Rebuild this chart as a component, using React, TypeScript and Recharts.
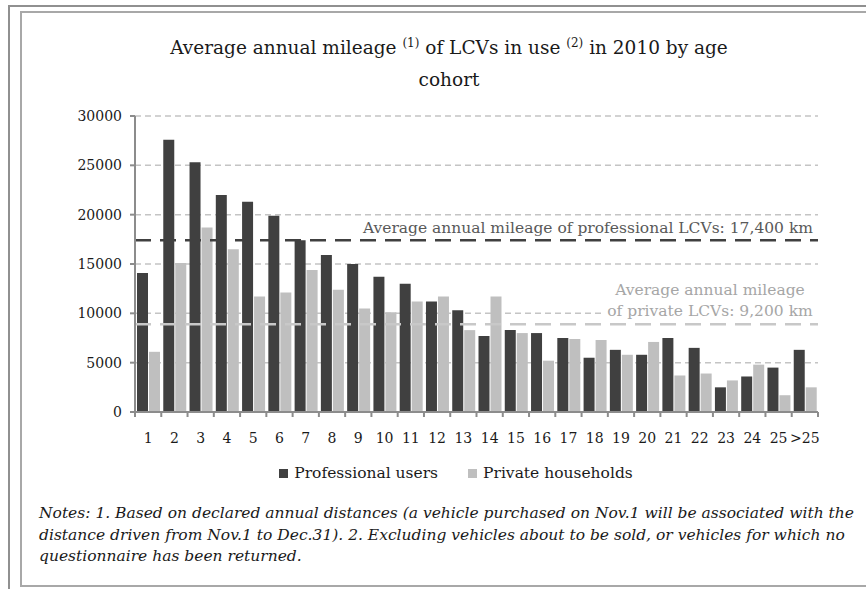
import React from 'react';
import {
  BarChart,
  Bar,
  XAxis,
  YAxis,
  CartesianGrid,
  ReferenceLine,
  Legend
} from 'recharts';

// age cohorts (years)
const ageCohorts = [
  '1', '2', '3', '4', '5', '6', '7', '8', '9', '10', '11', '12', '13',
  '14', '15', '16', '17', '18', '19', '20', '21', '22', '23', '24', '25', '>25'
];

// average annual km
const professionalUsers = [
  14100, 27600, 25300, 22000, 21300, 19900, 17400, 15900, 15000, 13700, 13000, 11200, 10300,
  7700, 8300, 8000, 7500, 5500, 6300, 5800, 7500, 6500, 2500, 3600, 4500, 6300
];
const privateHouseholds = [
  6100, 15100, 18700, 16500, 11700, 12100, 14400, 12400, 10500, 10100, 11200, 11700, 8300,
  11700, 8000, 5200, 7400, 7300, 5800, 7100, 3700, 3900, 3200, 4800, 1700, 2500
];

const seriesNames = ['Professional users', 'Private households'];
const yTicks = [0, 5000, 10000, 15000, 20000, 25000, 30000];
const professionalAverage = 17400;
const privateAverage = 8900; // drawn a little under the 9,200 printed in the label

const chartData = ageCohorts.map((age, i) => ({
  age,
  professional: professionalUsers[i],
  private: privateHouseholds[i]
}));

const DARK = '#404040';
const LIGHT = '#bfbfbf';
const AXIS = '#8c8c8c';
const TEXT = '#1a1a1a';
const FONT = '"DejaVu Serif", serif';

const PLOT_LEFT = 135;
const PLOT_RIGHT = 818;
const PLOT_TOP = 116;
const PLOT_BOTTOM = 412;
const bandHalf = (PLOT_RIGHT - PLOT_LEFT) / ageCohorts.length / 2;

// x ticks sit between the categories, labels in the middle
const AgeTick = (props: any) => {
  const { x, y, payload, index } = props;
  return (
    <g>
      <line x1={x - bandHalf} x2={x - bandHalf} y1={y} y2={y + 5} stroke={AXIS} strokeWidth={2} />
      {index === ageCohorts.length - 1 && (
        <line x1={x + bandHalf} x2={x + bandHalf} y1={y} y2={y + 5} stroke={AXIS} strokeWidth={2} />
      )}
      <text x={x} y={y + 31} textAnchor="middle" fill={TEXT} fontSize={14} fontFamily={FONT}>
        {payload.value}
      </text>
    </g>
  );
};

const ProfessionalLabel = (props: any) => {
  const { viewBox } = props;
  if (!viewBox) return null;
  return (
    <text
      x={viewBox.x + viewBox.width - 5}
      y={viewBox.y - 7}
      textAnchor="end"
      fill="#595959"
      fontSize={15.5}
      fontFamily={FONT}
    >
      Average annual mileage of professional LCVs: 17,400 km
    </text>
  );
};

const PrivateLabel = (props: any) => {
  const { viewBox } = props;
  if (!viewBox) return null;
  const cx = viewBox.x + viewBox.width - 108;
  return (
    <g>
      <rect x={cx - 108} y={viewBox.y - 45} width={216} height={41} fill="#ffffff" />
      <text x={cx} y={viewBox.y - 29} textAnchor="middle" fill="#a6a6a6" fontSize={15.5} fontFamily={FONT}>
        Average annual mileage
      </text>
      <text x={cx} y={viewBox.y - 8} textAnchor="middle" fill="#a6a6a6" fontSize={15.5} fontFamily={FONT}>
        of private LCVs: 9,200 km
      </text>
    </g>
  );
};

const LegendContent = ({ payload }: any) => {
  const items = seriesNames
    .map((name) => (payload || []).find((p: any) => p.value === name))
    .filter(Boolean);
  return (
    <div style={{ display: 'flex', justifyContent: 'center', gap: 30 }}>
      {items.map((entry: any) => (
        <span
          key={entry.value}
          style={{ display: 'flex', alignItems: 'center', color: TEXT, fontFamily: FONT, fontSize: 15.5 }}
        >
          <span style={{ width: 9, height: 9, background: entry.color, marginRight: 6, display: 'inline-block' }} />
          {entry.value}
        </span>
      ))}
    </div>
  );
};

const sup: React.CSSProperties = { fontSize: 12, position: 'relative', top: -7 };

export default function App() {
  return (
    <div style={{ position: 'absolute', left: 0, top: 0, width: 866, height: 589, background: '#fff', overflow: 'hidden' }}>
      {/* page frame */}
      <div style={{ position: 'absolute', left: 8, top: 5, width: 900, height: 700, borderLeft: '2px solid #909090', borderTop: '2px solid #909090' }} />
      <div style={{ position: 'absolute', left: 20, top: 11, width: 900, height: 572, border: '2px solid #a8a8a8' }} />

      <div style={{ position: 'absolute', left: 0, top: 0 }}>
        <BarChart
          width={866}
          height={589}
          data={chartData}
          margin={{ top: PLOT_TOP, right: 866 - PLOT_RIGHT, left: PLOT_LEFT - 60, bottom: 589 - PLOT_BOTTOM - 30 }}
          barCategoryGap={2}
          barGap={1}
        >
          <CartesianGrid vertical={false} stroke="#c4c4c4" strokeWidth={1.5} strokeDasharray="6 4" />
          <XAxis
            dataKey="age"
            height={30}
            interval={0}
            tickLine={false}
            tickSize={0}
            tickMargin={0}
            axisLine={{ stroke: AXIS, strokeWidth: 2 }}
            tick={<AgeTick />}
          />
          <YAxis
            width={60}
            domain={[0, 30000]}
            ticks={yTicks}
            tickSize={5}
            tickMargin={8}
            tickLine={{ stroke: AXIS, strokeWidth: 2 }}
            axisLine={{ stroke: AXIS, strokeWidth: 2 }}
            tick={{ fill: TEXT, fontSize: 14, fontFamily: FONT }}
          />
          <Legend
            layout="horizontal"
            verticalAlign="middle"
            align="center"
            wrapperStyle={{ top: 464, left: 0, width: 912 }}
            content={<LegendContent />}
          />
          <Bar dataKey="professional" name={seriesNames[0]} fill={DARK} isAnimationActive={false} />
          <Bar dataKey="private" name={seriesNames[1]} fill={LIGHT} isAnimationActive={false} />
          <ReferenceLine
            y={privateAverage}
            stroke="#c8c8c8"
            strokeWidth={2.5}
            strokeDasharray="16 9"
            label={<PrivateLabel />}
          />
          <ReferenceLine
            y={professionalAverage}
            stroke={DARK}
            strokeWidth={2.5}
            strokeDasharray="16 9"
            label={<ProfessionalLabel />}
          />
        </BarChart>
      </div>

      <div style={{ position: 'absolute', left: 0, width: 898, top: 33, textAlign: 'center', fontFamily: FONT, fontSize: 18.5, color: TEXT, lineHeight: '29px', whiteSpace: 'nowrap' }}>
        <div>
          Average annual mileage <span style={sup}>(1)</span> of LCVs in use <span style={sup}>(2)</span> in 2010 by age
        </div>
        <div>cohort</div>
      </div>

      <div style={{ position: 'absolute', left: 39, top: 503, fontFamily: FONT, fontStyle: 'italic', fontSize: 15.5, color: TEXT, lineHeight: '21.5px', whiteSpace: 'nowrap' }}>
        <div>Notes: 1. Based on declared annual distances (a vehicle purchased on Nov.1 will be associated with the</div>
        <div>distance driven from Nov.1 to Dec.31). 2. Excluding vehicles about to be sold, or vehicles for which no</div>
        <div>questionnaire has been returned.</div>
      </div>
    </div>
  );
}
